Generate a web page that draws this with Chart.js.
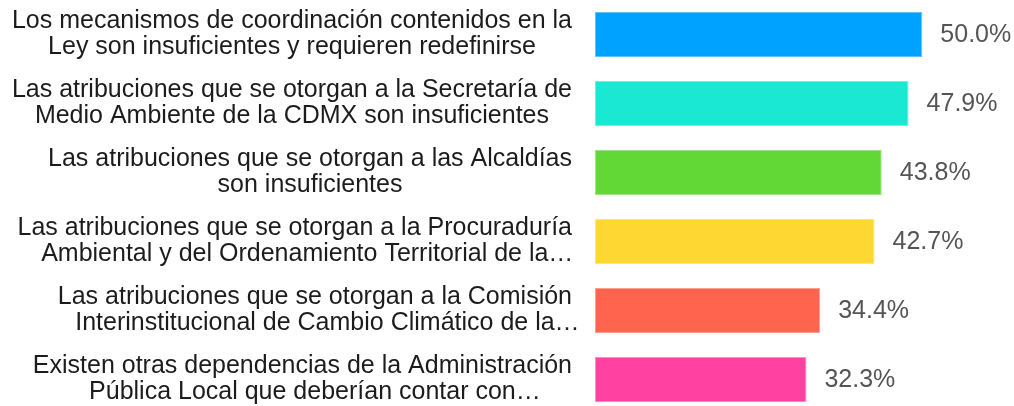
<!DOCTYPE html>
<html>
<head>
<meta charset="utf-8">
<script src="https://cdn.jsdelivr.net/npm/chart.js"></script>
<style>
  html, body { margin: 0; padding: 0; background: #fff; overflow: hidden; }
  #wrap { width: 1014px; height: 414px; }
</style>
</head>
<body>
<div id="wrap"><canvas id="myChart" width="1014" height="414"></canvas></div>
<script>
// categorias (cada una en dos lineas, como en la grafica)
const categorias = [
    ['Los mecanismos de coordinación contenidos en la', 'Ley son insuficientes y requieren redefinirse'],
    ['Las atribuciones que se otorgan a la Secretaría de', 'Medio Ambiente de la CDMX son insuficientes'],
    ['Las atribuciones que se otorgan a las Alcaldías', 'son insuficientes'],
    ['Las atribuciones que se otorgan a la Procuraduría', 'Ambiental y del Ordenamiento Territorial de la…'],
    ['Las atribuciones que se otorgan a la Comisión', 'Interinstitucional de Cambio Climático de la…'],
    ['Existen otras dependencias de la Administración', 'Pública Local que deberían contar con…']
];
const porcentajes = [50.0, 47.9, 43.8, 42.7, 34.4, 32.3];
const colores = ['#00A2FF', '#1AE8D2', '#61D836', '#FFD732', '#FF644E', '#FF42A1'];
const bordes = ['#5CC4FF', '#6FF0E2', '#9BE67E', '#FFE57A', '#FF9C8E', '#FF8AC4'];

const FUENTE = '"Liberation Sans", Arial, Helvetica, sans-serif';

// etiquetas de categoria y de valor
const etiquetas = {
    id: 'etiquetas',
    afterDatasetsDraw(chart) {
        const ctx = chart.ctx;
        const yScale = chart.scales.y;
        const meta = chart.getDatasetMeta(0);
        ctx.save();
        ctx.font = '25px ' + FUENTE;
        ctx.textBaseline = 'middle';

        // texto a la izquierda: bloque alineado a la derecha, lineas centradas
        const derecha = 572;
        const alto = 26;
        categorias.forEach((lineas, i) => {
            const cy = yScale.getPixelForValue(i);
            const anchos = lineas.map(l => ctx.measureText(l.replace(/…$/, '')).width);
            const bloque = Math.max(...anchos);
            const centro = derecha - bloque / 2;
            ctx.fillStyle = '#1c1c1c';
            ctx.textAlign = 'left';
            lineas.forEach((l, j) => {
                const y = cy + (j - (lineas.length - 1) / 2) * alto;
                ctx.fillText(l, centro - anchos[j] / 2, y);
            });
        });

        // valores
        ctx.fillStyle = '#555555';
        ctx.textAlign = 'left';
        meta.data.forEach((bar, i) => {
            ctx.fillText(porcentajes[i].toFixed(1) + '%', bar.x + 18, bar.y + 1);
        });
        ctx.restore();
    }
};

const ctx = document.getElementById('myChart');

new Chart(ctx, {
    type: 'bar',
    data: {
        labels: categorias,
        datasets: [{
            data: porcentajes,
            backgroundColor: colores,
            borderColor: bordes,
            borderWidth: 1,
            borderSkipped: false,
            barPercentage: 0.652,
            categoryPercentage: 1
        }]
    },
    options: {
        indexAxis: 'y',
        responsive: false,
        animation: false,
        layout: { padding: { left: 595, right: 0, top: 0, bottom: 0 } },
        plugins: {
            legend: { display: false },
            tooltip: { enabled: false }
        },
        scales: {
            x: { display: false, min: 0, max: 64 },
            y: { display: false }
        }
    },
    plugins: [etiquetas]
});
</script>
</body>
</html>
